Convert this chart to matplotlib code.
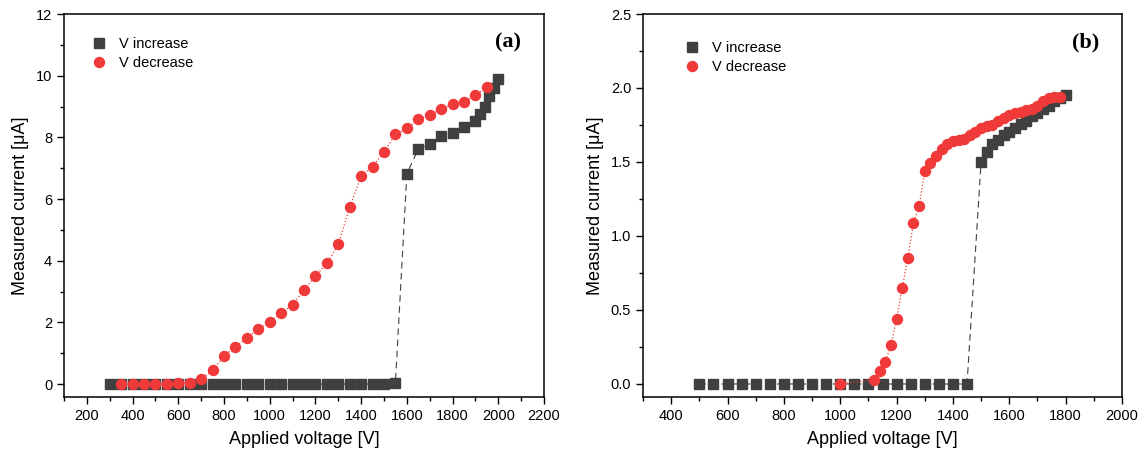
import matplotlib.pyplot as plt
from matplotlib.ticker import MultipleLocator

plt.rcParams['font.family'] = ['Liberation Sans', 'DejaVu Sans']

# panel (a)
a_inc_v = [300, 350, 400, 450, 500, 550, 600, 650, 700, 750, 800, 850, 900, 950,
           1000, 1050, 1100, 1150, 1200, 1250, 1300, 1350, 1400, 1450, 1500, 1550,
           1600, 1650, 1700, 1750, 1800, 1850, 1900, 1920, 1940, 1960, 1980, 2000]
a_inc_i = [0] * 25 + [0.05,
           6.82, 7.62, 7.78, 8.04, 8.15, 8.35, 8.54, 8.76, 8.97, 9.34, 9.59, 9.88]

a_dec_v = [350, 400, 450, 500, 550, 600, 650, 700, 750, 800, 850, 900, 950, 1000,
           1050, 1100, 1150, 1200, 1250, 1300, 1350, 1400, 1450, 1500, 1550, 1600,
           1650, 1700, 1750, 1800, 1850, 1900, 1950]
a_dec_i = [0, 0, 0, 0, 0, 0.02, 0.05, 0.16, 0.45, 0.91, 1.21, 1.50, 1.77, 2.01,
           2.31, 2.56, 3.05, 3.51, 3.91, 4.53, 5.73, 6.75, 7.05, 7.53, 8.10, 8.29,
           8.58, 8.73, 8.91, 9.07, 9.16, 9.37, 9.62]

# panel (b)
b_inc_v = [500, 550, 600, 650, 700, 750, 800, 850, 900, 950, 1000, 1050, 1100,
           1150, 1200, 1250, 1300, 1350, 1400, 1450,
           1500, 1520, 1540, 1560, 1580, 1600, 1620, 1640, 1660, 1680, 1700, 1720,
           1740, 1760, 1780, 1800]
b_inc_i = [0] * 20 + [1.50, 1.57, 1.62, 1.65, 1.68, 1.70, 1.73, 1.76, 1.78, 1.81,
                      1.83, 1.86, 1.88, 1.91, 1.93, 1.95]

b_dec_v = [1000, 1120, 1140, 1160, 1180, 1200, 1220, 1240, 1260, 1280, 1300, 1320,
           1340, 1360, 1380, 1400, 1420, 1440, 1460, 1480, 1500, 1520, 1540, 1560,
           1580, 1600, 1620, 1640, 1660, 1680, 1700, 1720, 1740, 1760, 1780]
b_dec_i = [0.0, 0.03, 0.09, 0.15, 0.26, 0.44, 0.65, 0.85, 1.09, 1.20, 1.44, 1.49,
           1.54, 1.59, 1.62, 1.64, 1.65, 1.655, 1.68, 1.70, 1.73, 1.74, 1.75, 1.78,
           1.80, 1.82, 1.83, 1.84, 1.85, 1.86, 1.88, 1.91, 1.93, 1.94, 1.94]

gray = '#404040'
red = '#f03a3a'

fig = plt.figure(figsize=(11.45, 4.63), dpi=100)
ax1 = fig.add_axes([64 / 1145, 1 - 397 / 463, 480 / 1145, 383 / 463])
ax2 = fig.add_axes([643 / 1145, 1 - 397 / 463, 479 / 1145, 383 / 463])


def draw(ax, iv, ii, dv, di, lab, legx, legy):
    ax.plot(iv, ii, color=gray, ls=(0, (6, 4)), lw=0.8, marker='s', ms=6.8,
            mec=gray, mfc=gray, label='V increase', zorder=2)
    ax.plot(dv, di, color=red, ls=':', lw=0.9, marker='o', ms=7.2,
            mec=red, mfc=red, label='V decrease', zorder=3)
    leg = ax.legend(loc='upper left', bbox_to_anchor=(legx, legy), frameon=False,
                    fontsize=10.5, handletextpad=0.9, handlelength=1.0,
                    labelspacing=0.35, borderaxespad=0)
    for h in leg.legend_handles:
        h.set_linestyle('None')
    ax.text(0.925, 0.925, lab, transform=ax.transAxes, ha='center', va='center',
            fontsize=16, fontweight='bold', family='Liberation Serif')
    ax.set_xlabel('Applied voltage [V]', fontsize=13, labelpad=6)
    ax.set_ylabel('Measured current [μA]', fontsize=13, labelpad=5)
    ax.tick_params(which='both', direction='out', labelsize=10.5, width=1)
    ax.tick_params(which='major', length=5)
    ax.tick_params(which='minor', length=3)
    for s in ax.spines.values():
        s.set_linewidth(1.1)


draw(ax1, a_inc_v, a_inc_i, a_dec_v, a_dec_i, '(a)', 0.045, 0.955)
ax1.set_xlim(100, 2200)
ax1.set_ylim(-0.42, 12)
ax1.xaxis.set_major_locator(MultipleLocator(200))
ax1.xaxis.set_minor_locator(MultipleLocator(100))
ax1.yaxis.set_major_locator(MultipleLocator(2))
ax1.yaxis.set_minor_locator(MultipleLocator(1))

draw(ax2, b_inc_v, b_inc_i, b_dec_v, b_dec_i, '(b)', 0.075, 0.945)
ax2.set_xlim(300, 2000)
ax2.set_ylim(-0.088, 2.5)
ax2.xaxis.set_major_locator(MultipleLocator(200))
ax2.xaxis.set_minor_locator(MultipleLocator(100))
ax2.yaxis.set_major_locator(MultipleLocator(0.5))
ax2.yaxis.set_minor_locator(MultipleLocator(0.25))
ax2.set_xticks([400, 600, 800, 1000, 1200, 1400, 1600, 1800, 2000])

fig.savefig('out.png', dpi=100)
